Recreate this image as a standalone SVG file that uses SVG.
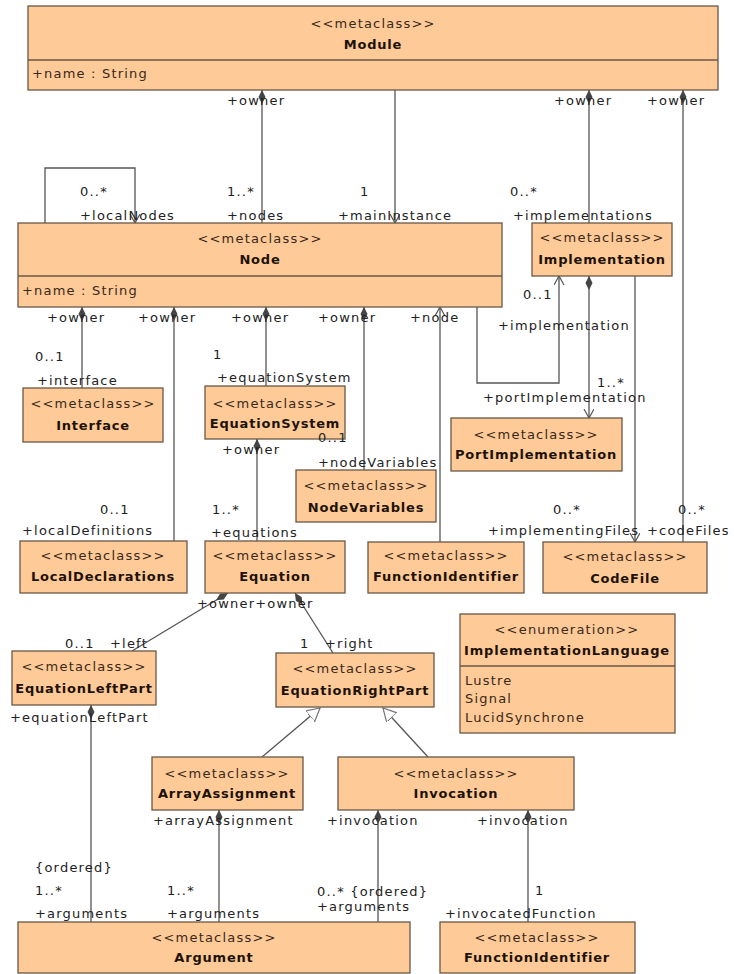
<svg xmlns="http://www.w3.org/2000/svg" width="734" height="974" viewBox="0 0 734 974">
<style>
.box{fill:#fdca98;stroke:#6a5646;stroke-width:1.3}
.div{stroke:#6a5646;stroke-width:1.3}
text{font-family:"DejaVu Sans","Liberation Sans",sans-serif;font-size:13px;fill:#222;letter-spacing:1.2px}
.st{text-anchor:middle;fill:#3a2818}
.nm{text-anchor:middle;font-weight:bold;fill:#1e1208;letter-spacing:0.8px}
.at{fill:#3a2818}
.cn path{fill:none;stroke:#555;stroke-width:1.3}
</style>
<defs>
<marker id="dia" markerUnits="userSpaceOnUse" markerWidth="16" markerHeight="8" refX="0" refY="3.5" orient="auto"><path d="M0,3.5 L7,0 L14,3.5 L7,7 Z" fill="#444" stroke="none"/></marker>
<marker id="arr" markerUnits="userSpaceOnUse" markerWidth="12" markerHeight="12" refX="9" refY="5" orient="auto"><path d="M0,0 L9,5 L0,10" fill="none" stroke="#555" stroke-width="1.2"/></marker>
<marker id="tri" markerUnits="userSpaceOnUse" markerWidth="16" markerHeight="16" refX="13" refY="7" orient="auto"><path d="M0,0 L13,7 L0,14 Z" fill="#fff" stroke="#777" stroke-width="1.2"/></marker>
</defs>

<g id="connectors" class="cn">
<path d="M262,90 V223" marker-start="url(#dia)"/>
<path d="M589,90 V223" marker-start="url(#dia)"/>
<path d="M683,90 V542" marker-start="url(#dia)"/>
<path d="M395,90 V223" marker-end="url(#arr)"/>
<path d="M45,223 V168 H135 V223" marker-end="url(#arr)"/>
<path d="M82,307 V388" marker-start="url(#dia)"/>
<path d="M174,307 V541" marker-start="url(#dia)"/>
<path d="M266,307 V386" marker-start="url(#dia)"/>
<path d="M364,307 V470" marker-start="url(#dia)"/>
<path d="M440,542 V307" marker-end="url(#arr)"/>
<path d="M477,307 V383 H559 V276" marker-end="url(#arr)"/>
<path d="M589,276 V418" marker-start="url(#dia)" marker-end="url(#arr)"/>
<path d="M635,276 V542" marker-end="url(#arr)"/>
<path d="M257,439 V541" marker-start="url(#dia)"/>
<path d="M228,593 L132,651" marker-start="url(#dia)"/>
<path d="M295,593 L333,653" marker-start="url(#dia)"/>
<path d="M262,757 L320,708" marker-end="url(#tri)"/>
<path d="M428,757 L383,708" marker-end="url(#tri)"/>
<path d="M91,705 V922" marker-start="url(#dia)"/>
<path d="M219,810 V922" marker-start="url(#dia)"/>
<path d="M378,810 V922" marker-start="url(#dia)"/>
<path d="M528,810 V922" marker-start="url(#dia)"/>
</g>

<g id="Module">
<rect class="box" x="28" y="6" width="690" height="84"/>
<line class="div" x1="28" y1="60" x2="718" y2="60"/>
<text class="st" x="373" y="28">&lt;&lt;metaclass&gt;&gt;</text>
<text class="nm" x="373" y="49">Module</text>
<text class="at" x="32" y="78">+name : String</text>
</g>

<g id="Node">
<rect class="box" x="18" y="223" width="484" height="84"/>
<line class="div" x1="18" y1="276" x2="502" y2="276"/>
<text class="st" x="260" y="243">&lt;&lt;metaclass&gt;&gt;</text>
<text class="nm" x="260" y="264">Node</text>
<text class="at" x="22" y="295">+name : String</text>
</g>

<g id="Implementation">
<rect class="box" x="532" y="223" width="140" height="53"/>
<text class="st" x="602" y="242">&lt;&lt;metaclass&gt;&gt;</text>
<text class="nm" x="602" y="264">Implementation</text>
</g>

<g id="Interface">
<rect class="box" x="23" y="388" width="140" height="54"/>
<text class="st" x="93" y="408">&lt;&lt;metaclass&gt;&gt;</text>
<text class="nm" x="93" y="430">Interface</text>
</g>

<g id="EquationSystem">
<rect class="box" x="205" y="386" width="140" height="53"/>
<text class="st" x="275" y="408">&lt;&lt;metaclass&gt;&gt;</text>
<text class="nm" x="275" y="428">EquationSystem</text>
</g>

<g id="PortImplementation">
<rect class="box" x="451" y="418" width="171" height="53"/>
<text class="st" x="536" y="439">&lt;&lt;metaclass&gt;&gt;</text>
<text class="nm" x="536" y="459">PortImplementation</text>
</g>

<g id="NodeVariables">
<rect class="box" x="296" y="470" width="140" height="52"/>
<text class="st" x="366" y="490">&lt;&lt;metaclass&gt;&gt;</text>
<text class="nm" x="366" y="512">NodeVariables</text>
</g>

<g id="LocalDeclarations">
<rect class="box" x="20" y="541" width="167" height="52"/>
<text class="st" x="103" y="560">&lt;&lt;metaclass&gt;&gt;</text>
<text class="nm" x="103" y="581">LocalDeclarations</text>
</g>

<g id="Equation">
<rect class="box" x="205" y="541" width="140" height="52"/>
<text class="st" x="275" y="560">&lt;&lt;metaclass&gt;&gt;</text>
<text class="nm" x="275" y="581">Equation</text>
</g>

<g id="FunctionIdentifier1">
<rect class="box" x="368" y="542" width="156" height="51"/>
<text class="st" x="446" y="560">&lt;&lt;metaclass&gt;&gt;</text>
<text class="nm" x="446" y="581">FunctionIdentifier</text>
</g>

<g id="CodeFile">
<rect class="box" x="543" y="542" width="164" height="51"/>
<text class="st" x="625" y="561">&lt;&lt;metaclass&gt;&gt;</text>
<text class="nm" x="625" y="583">CodeFile</text>
</g>

<g id="EquationLeftPart">
<rect class="box" x="12" y="651" width="144" height="54"/>
<text class="st" x="84" y="671">&lt;&lt;metaclass&gt;&gt;</text>
<text class="nm" x="84" y="693">EquationLeftPart</text>
</g>

<g id="EquationRightPart">
<rect class="box" x="276" y="653" width="158" height="54"/>
<text class="st" x="355" y="673">&lt;&lt;metaclass&gt;&gt;</text>
<text class="nm" x="355" y="695">EquationRightPart</text>
</g>

<g id="ImplementationLanguage">
<rect class="box" x="460" y="614" width="215" height="119"/>
<line class="div" x1="460" y1="666" x2="675" y2="666"/>
<text class="st" x="567" y="634">&lt;&lt;enumeration&gt;&gt;</text>
<text class="nm" x="567" y="655">ImplementationLanguage</text>
<text class="at" x="465" y="685">Lustre</text>
<text class="at" x="465" y="703">Signal</text>
<text class="at" x="465" y="722">LucidSynchrone</text>
</g>

<g id="ArrayAssignment">
<rect class="box" x="152" y="757" width="151" height="53"/>
<text class="st" x="227" y="778">&lt;&lt;metaclass&gt;&gt;</text>
<text class="nm" x="227" y="798">ArrayAssignment</text>
</g>

<g id="Invocation">
<rect class="box" x="338" y="757" width="236" height="53"/>
<text class="st" x="456" y="778">&lt;&lt;metaclass&gt;&gt;</text>
<text class="nm" x="456" y="798">Invocation</text>
</g>

<g id="Argument">
<rect class="box" x="18" y="922" width="392" height="51"/>
<text class="st" x="214" y="942">&lt;&lt;metaclass&gt;&gt;</text>
<text class="nm" x="214" y="962">Argument</text>
</g>

<g id="FunctionIdentifier2">
<rect class="box" x="440" y="922" width="195" height="51"/>
<text class="st" x="537" y="942">&lt;&lt;metaclass&gt;&gt;</text>
<text class="nm" x="537" y="962">FunctionIdentifier</text>
</g>

<g id="labels">
<text x="227" y="105">+owner</text>
<text x="554" y="105">+owner</text>
<text x="647" y="105">+owner</text>
<text x="80" y="196">0..*</text>
<text x="80" y="220">+localNodes</text>
<text x="227" y="196">1..*</text>
<text x="227" y="220">+nodes</text>
<text x="360" y="196">1</text>
<text x="338" y="220">+mainInstance</text>
<text x="510" y="196">0..*</text>
<text x="513" y="220">+implementations</text>
<text x="47" y="322">+owner</text>
<text x="138" y="322">+owner</text>
<text x="231" y="322">+owner</text>
<text x="318" y="322">+owner</text>
<text x="410" y="322">+node</text>
<text x="523" y="299">0..1</text>
<text x="498" y="330">+implementation</text>
<text x="35" y="361">0..1</text>
<text x="37" y="385">+interface</text>
<text x="213" y="359">1</text>
<text x="217" y="382">+equationSystem</text>
<text x="597" y="387">1..*</text>
<text x="483" y="402">+portImplementation</text>
<text x="222" y="454">+owner</text>
<text x="318" y="442">0..1</text>
<text x="318" y="467">+nodeVariables</text>
<text x="100" y="514">0..1</text>
<text x="22" y="535">+localDefinitions</text>
<text x="212" y="514">1..*</text>
<text x="211" y="537">+equations</text>
<text x="553" y="514">0..*</text>
<text x="488" y="535">+implementingFiles</text>
<text x="678" y="514">0..*</text>
<text x="647" y="535">+codeFiles</text>
<text x="197" y="608">+owner+owner</text>
<text x="65" y="648">0..1</text>
<text x="110" y="648">+left</text>
<text x="300" y="648">1</text>
<text x="325" y="648">+right</text>
<text x="10" y="722">+equationLeftPart</text>
<text x="153" y="825">+arrayAssignment</text>
<text x="327" y="825">+invocation</text>
<text x="477" y="825">+invocation</text>
<text x="35" y="872">{ordered}</text>
<text x="35" y="895">1..*</text>
<text x="35" y="918">+arguments</text>
<text x="167" y="895">1..*</text>
<text x="167" y="918">+arguments</text>
<text x="317" y="896">0..* {ordered}</text>
<text x="317" y="911">+arguments</text>
<text x="535" y="895">1</text>
<text x="445" y="918">+invocatedFunction</text>
</g>
</svg>
